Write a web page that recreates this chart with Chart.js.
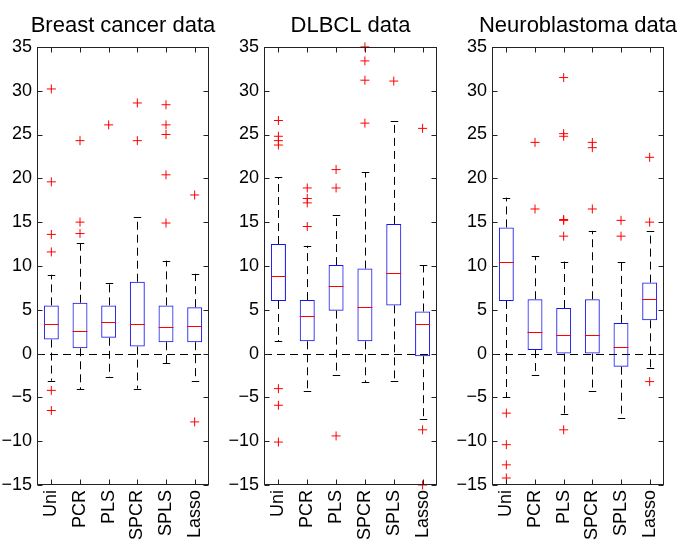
<!DOCTYPE html>
<html>
<head>
<meta charset="utf-8">
<script src="https://cdn.jsdelivr.net/npm/chart.js@4.4.1/dist/chart.umd.min.js"></script>
<style>
  body { margin: 0; background: #fff; overflow: hidden; }
  canvas { position: absolute; top: 0; }
</style>
</head>
<body>
<canvas id="breast" width="246" height="544" style="left:0px"></canvas>
<canvas id="dlbcl" width="257" height="544" style="left:222px"></canvas>
<canvas id="neuro" width="256" height="544" style="left:450px"></canvas>
<script>
var methods = ['Uni', 'PCR', 'PLS', 'SPCR', 'SPLS', 'Lasso'];
var yTicks = [-15, -10, -5, 0, 5, 10, 15, 20, 25, 30, 35];

// Breast cancer
var breastQ1  = [1.6, 0.6, 1.8, 0.8, 1.3, 1.3];
var breastMed = [3.4, 2.6, 3.6, 3.4, 3.0, 3.1];
var breastQ3  = [5.5, 5.8, 5.5, 8.2, 5.5, 5.3];
var breastLo  = [-3.1, -4.1, -2.7, -4.0, -1.1, -3.1];
var breastHi  = [9.0, 12.6, 8.0, 15.6, 10.6, 9.1];
var breastOut = [[30.2, 19.6, 13.6, 11.6, -4.2, -6.5], [24.3, 15.0, 13.7], [26.1],
                 [28.6, 24.3], [28.4, 26.1, 25.0, 20.4, 14.9], [18.1, -7.8]];

// DLBCL
var dlbclQ1  = [6.0, 1.4, 4.9, 1.4, 5.5, -0.3];
var dlbclMed = [8.8, 4.3, 7.7, 5.3, 9.2, 3.4];
var dlbclQ3  = [12.5, 6.1, 10.1, 9.7, 14.8, 4.8];
var dlbclLo  = [1.4, -4.3, -2.5, -3.3, -3.1, -7.5];
var dlbclHi  = [20.1, 12.3, 15.8, 20.7, 26.5, 10.1];
var dlbclOut = [[26.6, 24.8, 24.3, 23.8, -4.0, -5.9, -10.1], [18.9, 17.7, 17.2, 14.5],
                [21.0, 18.9, -9.4], [35.0, 33.4, 31.2, 26.3], [31.1], [25.7, -8.7, -15.0]];

// Neuroblastoma
var neuroQ1  = [6.0, 0.4, 0.0, 0.0, -1.5, 3.8];
var neuroMed = [10.5, 2.5, 2.1, 2.1, 0.8, 6.2];
var neuroQ3  = [14.4, 6.2, 5.2, 6.2, 3.5, 8.1];
var neuroLo  = [-5.0, -2.4, -6.9, -4.3, -7.4, -1.7];
var neuroHi  = [17.8, 11.1, 10.5, 14.0, 10.5, 14.0];
var neuroOut = [[-6.8, -10.4, -12.7, -14.2], [24.1, 16.5],
                [31.5, 25.1, 24.8, 15.3, 15.2, 13.4, -8.7], [24.1, 23.5, 16.5],
                [15.2, 13.4], [22.4, 15.0, -3.2]];

var FONT = "'Liberation Sans', Arial, sans-serif";
var BLUE = 'rgb(20,20,240)';
var RED = 'rgb(255,0,0)';

function makeBoxChart(id, title, q1, med, q3, lo, hi, out, yWidth) {
  var outPts = [];
  out.forEach(function(list, i) {
    list.forEach(function(v) { outPts.push({ x: methods[i], y: v }); });
  });

  var parts = {
    id: 'parts_' + id,
    beforeDatasetsDraw: function(chart) {
      var ctx = chart.ctx, x = chart.scales.x, y = chart.scales.y, a = chart.chartArea;
      var bars = chart.getDatasetMeta(0).data;
      ctx.save();
      ctx.strokeStyle = '#000';
      ctx.lineWidth = 1;
      // dashed zero line
      ctx.setLineDash([8, 5]);
      var y0 = Math.round(y.getPixelForValue(0)) + 0.5;
      ctx.beginPath();
      ctx.moveTo(a.left, y0);
      ctx.lineTo(a.right, y0);
      ctx.stroke();
      // whiskers
      for (var i = 0; i < methods.length; i++) {
        var cx = Math.round(x.getPixelForValue(i)) + 0.5;
        ctx.setLineDash([8, 5]);
        ctx.beginPath();
        ctx.moveTo(cx, y.getPixelForValue(q3[i]));
        ctx.lineTo(cx, y.getPixelForValue(hi[i]));
        ctx.moveTo(cx, y.getPixelForValue(q1[i]));
        ctx.lineTo(cx, y.getPixelForValue(lo[i]));
        ctx.stroke();
        // caps
        ctx.setLineDash([]);
        var cw = bars[i].width / 4;
        var yh = Math.round(y.getPixelForValue(hi[i])) + 0.5;
        var yl = Math.round(y.getPixelForValue(lo[i])) + 0.5;
        ctx.beginPath();
        ctx.moveTo(cx - cw, yh); ctx.lineTo(cx + cw, yh);
        ctx.moveTo(cx - cw, yl); ctx.lineTo(cx + cw, yl);
        ctx.stroke();
      }
      ctx.restore();
    },
    afterDatasetsDraw: function(chart) {
      var ctx = chart.ctx, x = chart.scales.x, y = chart.scales.y, a = chart.chartArea;
      var bars = chart.getDatasetMeta(0).data;
      ctx.save();
      // medians
      ctx.strokeStyle = RED;
      ctx.lineWidth = 1;
      for (var i = 0; i < methods.length; i++) {
        var ym = Math.round(y.getPixelForValue(med[i])) + 0.5;
        ctx.beginPath();
        ctx.moveTo(bars[i].x - bars[i].width / 2, ym);
        ctx.lineTo(bars[i].x + bars[i].width / 2, ym);
        ctx.stroke();
      }
      // frame and inward ticks
      ctx.strokeStyle = '#222';
      var l = Math.round(a.left) + 0.5, r = Math.round(a.right) - 0.5;
      var t = Math.round(a.top) + 0.5, b = Math.round(a.bottom) - 0.5;
      ctx.strokeRect(l, t, r - l, b - t);
      ctx.beginPath();
      y.ticks.forEach(function(tk) {
        var py = Math.round(y.getPixelForValue(tk.value)) + 0.5;
        ctx.moveTo(l, py); ctx.lineTo(l + 5, py);
        ctx.moveTo(r, py); ctx.lineTo(r - 5, py);
      });
      for (var j = 0; j < methods.length; j++) {
        var px = Math.round(x.getPixelForValue(j)) + 0.5;
        ctx.moveTo(px, t); ctx.lineTo(px, t + 5);
        ctx.moveTo(px, b); ctx.lineTo(px, b - 5);
      }
      ctx.stroke();
      ctx.restore();
    }
  };

  return new Chart(document.getElementById(id), {
    type: 'bar',
    data: {
      labels: methods,
      datasets: [{
        data: q1.map(function(v, i) { return [v, q3[i]]; }),
        backgroundColor: 'rgba(0,0,0,0)',
        borderColor: BLUE,
        borderWidth: 1,
        borderSkipped: false,
        barPercentage: 0.52,
        categoryPercentage: 1
      }, {
        type: 'scatter',
        data: outPts,
        pointStyle: 'cross',
        radius: 4.5,
        borderColor: RED,
        borderWidth: 1,
        clip: false
      }]
    },
    options: {
      responsive: false,
      animation: false,
      events: [],
      layout: { padding: 0 },
      plugins: {
        legend: { display: false },
        tooltip: { enabled: false },
        title: {
          display: true,
          text: title,
          color: '#000',
          font: { family: FONT, size: 22, weight: 'normal' },
          padding: { top: 13, bottom: 7.5 }
        }
      },
      scales: {
        x: {
          type: 'category',
          grid: { display: false, drawTicks: false },
          border: { display: false },
          ticks: {
            color: '#000',
            font: { family: FONT, size: 18 },
            minRotation: 90,
            maxRotation: 90,
            autoSkip: false,
            padding: 5
          },
          afterFit: function(s) { s.height = 59; }
        },
        y: {
          min: -15,
          max: 35,
          grid: { display: false, drawTicks: false },
          border: { display: false },
          afterBuildTicks: function(s) { s.ticks = yTicks.map(function(v) { return { value: v }; }); },
          ticks: {
            color: '#000',
            font: { family: FONT, size: 18 },
            padding: 5,
            callback: function(v) { return String(v).replace('-', '\u2212'); }
          },
          afterFit: function(s) { s.width = yWidth; }
        },
        // empty right axis, same width as the left one, keeps the title centred over the plot box
        yPad: {
          position: 'right',
          min: -15,
          max: 35,
          grid: { display: false, drawTicks: false },
          border: { display: false },
          ticks: { display: false },
          afterFit: function(s) { s.width = yWidth; }
        }
      }
    },
    plugins: [parts]
  });
}

makeBoxChart('breast', 'Breast cancer data', breastQ1, breastMed, breastQ3, breastLo, breastHi, breastOut, 37);
makeBoxChart('dlbcl', 'DLBCL data', dlbclQ1, dlbclMed, dlbclQ3, dlbclLo, dlbclHi, dlbclOut, 42);
makeBoxChart('neuro', 'Neuroblastoma data', neuroQ1, neuroMed, neuroQ3, neuroLo, neuroHi, neuroOut, 42);
</script>
</body>
</html>
